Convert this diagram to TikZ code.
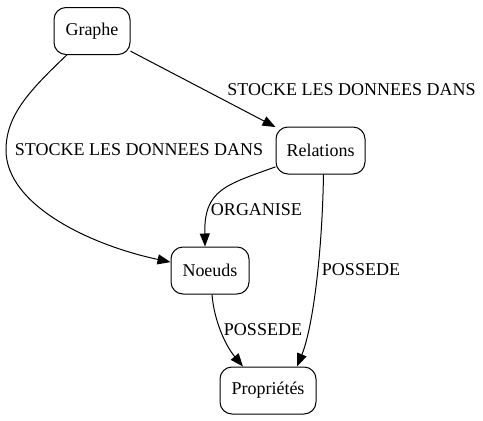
\documentclass[tikz,border=0pt]{standalone}
\usepackage{fontspec}
\setmainfont{Liberation Serif}
\newfontfamily\tms{Liberation Serif}
\usetikzlibrary{arrows.meta}
\begin{document}
\begin{tikzpicture}[x=1pt,y=-1pt,
  box/.style={draw,line width=1pt,rounded corners=12pt,inner sep=0pt,minimum height=47pt,font=\tms\fontsize{18}{20}\selectfont},
  lbl/.style={inner sep=0pt,font=\tms\fontsize{18}{20}\selectfont},
  conn/.style={line width=1pt,-{Triangle[length=13pt,width=10pt]}}]
\useasboundingbox (0,0) rectangle (483,421);
\node[box,minimum width=76pt] (g) at (92,31) {Graphe};
\node[box,minimum width=89pt] (r) at (320.5,150.5) {Relations};
\node[box,minimum width=78pt] (n) at (210,270.5) {Noeuds};
\node[box,minimum width=96pt] (p) at (268,390.5) {Propriétés};
\draw[conn] (g) -- (r);
\draw[conn] (g) .. controls (30,90) and (6,115) .. (6,150) .. controls (6,205) and (90,245) .. (n);
\draw[conn] (r.200) .. controls (225,185) and (204,190) .. ([xshift=-5pt]n.north);
\draw[conn] ([xshift=3pt]r.south) .. controls (322,260) and (312,330) .. ([xshift=29pt]p.north);
\draw[conn] ([xshift=2pt]n.south) .. controls (214,320) and (225,345) .. ([xshift=-25pt]p.north);
\node[lbl] (l1) at (351.5,90) {STOCKE LES DONNEES DANS};
\node[lbl] (l2) at (139,150) {STOCKE LES DONNEES DANS};
\node[lbl] (l3) at (256.5,210) {ORGANISE};
\node[lbl] (l4) at (361,270) {POSSEDE};
\node[lbl] (l5) at (263,330) {POSSEDE};
\end{tikzpicture}
\end{document}
